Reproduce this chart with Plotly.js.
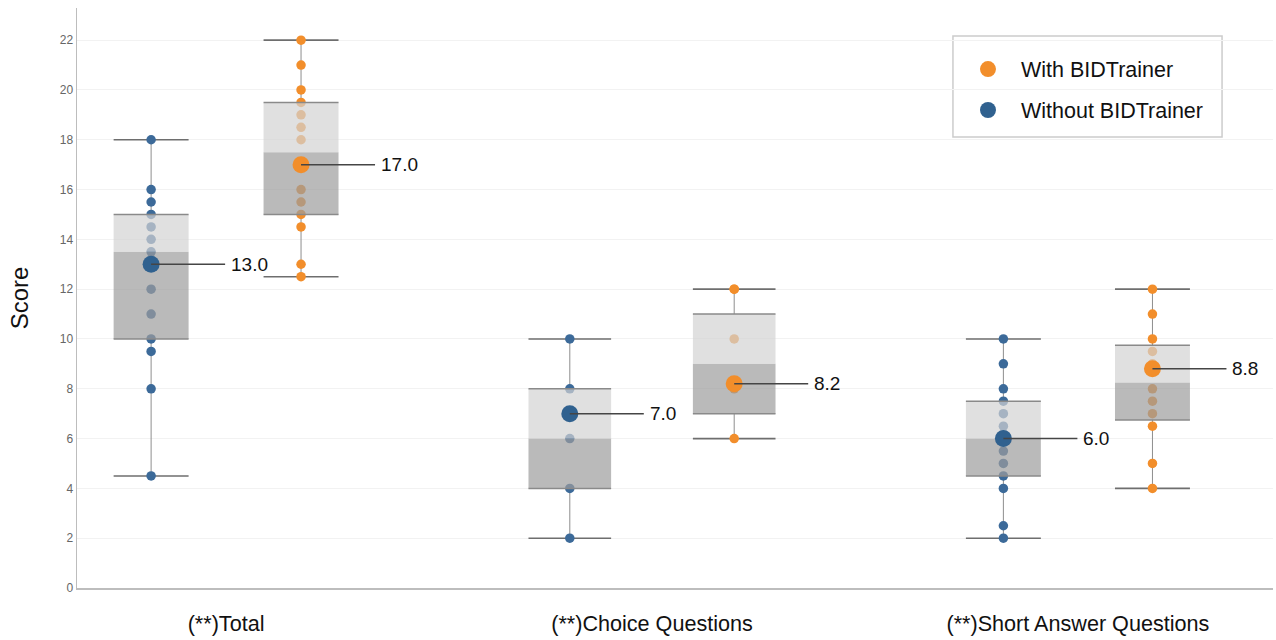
<!DOCTYPE html>
<html>
<head>
<meta charset="utf-8">
<script src="https://cdn.plot.ly/plotly-3.0.1.min.js"></script>
<style>
  html, body { margin: 0; padding: 0; background: #fff; }
  #chart { width: 1276px; height: 640px; }
</style>
</head>
<body>
<div id="chart"></div>
<script>
// ---- data ----
const categories = ['(**)Total', '(**)Choice Questions', '(**)Short Answer Questions'];
const withName = 'With BIDTrainer';
const withoutName = 'Without BIDTrainer';

// individual scores per category
const withoutScores = [
  [18, 16, 15.5, 15, 14.5, 14, 13.5, 12, 11, 10, 9.5, 8, 4.5],
  [10, 8, 6, 4, 2],
  [10, 9, 8, 7.5, 7, 6.5, 6, 5.5, 5, 4.5, 4, 2.5, 2]
];
const withScores = [
  [22, 21, 20, 19.5, 19, 18.5, 18, 16, 15.5, 15, 14.5, 13, 12.5],
  [12, 12, 10, 8, 6],
  [12, 11, 10, 9.5, 9, 8, 7.5, 7, 6.5, 5, 4]
];

// box statistics per category
const withoutMin = [4.5, 2, 2];
const withoutQ1 = [10, 4, 4.5];
const withoutMedian = [13.5, 6, 6];
const withoutQ3 = [15, 8, 7.5];
const withoutMax = [18, 10, 10];
const withoutMean = [13.0, 7.0, 6.0];

const withMin = [12.5, 6, 4];
const withQ1 = [15, 7, 6.75];
const withMedian = [17.5, 9, 8.25];
const withQ3 = [19.5, 11, 9.75];
const withMax = [22, 12, 12];
const withMean = [17.0, 8.2, 8.8];

// ---- geometry & style ----
const pairOffset = [0.176, 0.193, 0.175];  // distance of each box from its category centre (axis units)
const boxHalf = [0.088, 0.097, 0.088];     // half box width (axis units)
const FONT = '"Liberation Sans", Arial, Helvetica, sans-serif';
const BLUE = '#3c6a99';
const BLUE_MEAN = '#30618f';
const ORANGE = '#f28e2b';
const ORANGE_MEAN = '#f28e2b';

function buildSeries(side, s) {
  const pos = categories.map((_, g) => g + side * pairOffset[g]);
  const whiskX = [], whiskY = [], capX = [], capY = [];
  const lowX = [], lowY = [], upX = [], upY = [], edgeX = [], edgeY = [];
  const ptsX = [], ptsY = [];
  categories.forEach((_, g) => {
    const x = pos[g], h = boxHalf[g];
    whiskX.push(x, x, null, x, x, null);
    whiskY.push(s.min[g], s.q1[g], null, s.q3[g], s.max[g], null);
    capX.push(x - h, x + h, null, x - h, x + h, null);
    capY.push(s.min[g], s.min[g], null, s.max[g], s.max[g], null);
    lowX.push(x - h, x + h, x + h, x - h, x - h, null);
    lowY.push(s.q1[g], s.q1[g], s.median[g], s.median[g], s.q1[g], null);
    upX.push(x - h, x + h, x + h, x - h, x - h, null);
    upY.push(s.median[g], s.median[g], s.q3[g], s.q3[g], s.median[g], null);
    edgeX.push(x - h, x + h, null, x - h, x + h, null);
    edgeY.push(s.q1[g], s.q1[g], null, s.q3[g], s.q3[g], null);
    s.scores[g].forEach(v => { ptsX.push(x); ptsY.push(v); });
  });
  const common = { type: 'scatter', showlegend: false, hoverinfo: 'skip' };
  return {
    pos,
    under: [
      Object.assign({}, common, { x: whiskX, y: whiskY, mode: 'lines', line: { color: '#8e8e8e', width: 1 } }),
      Object.assign({}, common, { x: capX, y: capY, mode: 'lines', line: { color: '#6e6e6e', width: 1.6 } }),
      Object.assign({}, common, { x: ptsX, y: ptsY, mode: 'markers', marker: { size: 9.5, color: s.color, line: { width: 0 } } })
    ],
    boxes: [
      Object.assign({}, common, { x: lowX, y: lowY, mode: 'lines', fill: 'toself', fillcolor: 'rgba(157,157,157,0.7)', line: { width: 0 } }),
      Object.assign({}, common, { x: upX, y: upY, mode: 'lines', fill: 'toself', fillcolor: 'rgba(211,211,211,0.7)', line: { width: 0 } }),
      Object.assign({}, common, { x: edgeX, y: edgeY, mode: 'lines', line: { color: '#8a8a8a', width: 1.5 } })
    ],
    mean: {
      type: 'scatter', mode: 'markers', name: s.name, x: pos, y: s.mean,
      marker: { size: 17, color: s.meanColor, line: { width: 0 } },
      legendgroup: s.name, legendrank: s.rank, hoverinfo: 'skip'
    }
  };
}

const without = buildSeries(-1, {
  name: withoutName, scores: withoutScores, min: withoutMin, q1: withoutQ1, median: withoutMedian,
  q3: withoutQ3, max: withoutMax, mean: withoutMean, color: BLUE, meanColor: BLUE_MEAN, rank: 2
});
const withT = buildSeries(1, {
  name: withName, scores: withScores, min: withMin, q1: withQ1, median: withMedian,
  q3: withQ3, max: withMax, mean: withMean, color: ORANGE, meanColor: ORANGE_MEAN, rank: 1
});

const traces = [].concat(
  without.under, withT.under,
  without.boxes, withT.boxes,
  [without.mean, withT.mean]
);

// mean value labels with leader lines
const annotations = [];
[[without.pos, withoutMean], [withT.pos, withMean]].forEach(([pos, mean]) => {
  pos.forEach((x, g) => {
    annotations.push({
      x: x, y: mean[g], xref: 'x', yref: 'y',
      text: mean[g].toFixed(1), showarrow: true, arrowhead: 0, arrowwidth: 1.5,
      arrowcolor: '#454545', ax: 74, ay: 0, axref: 'pixel', ayref: 'pixel',
      xanchor: 'left', yanchor: 'middle', standoff: 0, borderpad: 5,
      font: { family: FONT, size: 19, color: '#111' }
    });
  });
});

const layout = {
  width: 1276, height: 640,
  margin: { l: 77, r: 3, t: 8, b: 52 },
  paper_bgcolor: '#fff', plot_bgcolor: '#fff',
  font: { family: FONT },
  showlegend: true,
  legend: {
    x: 0.7341, y: 0.930, xanchor: 'left', yanchor: 'top',
    bgcolor: 'rgba(0,0,0,0)', borderwidth: 0,
    font: { family: FONT, size: 21.5, color: '#111' },
    traceorder: 'grouped', tracegroupgap: 10, itemwidth: 56
  },
  xaxis: {
    range: [-0.35, 2.458], tickmode: 'array', tickvals: [0, 1, 2], ticktext: categories,
    showgrid: false, zeroline: false, showline: true, linecolor: '#bdbdbd', linewidth: 1.5,
    ticks: '', ticklabelstandoff: 16,
    tickfont: { family: FONT, size: 21.6, color: '#111' }, fixedrange: true
  },
  yaxis: {
    range: [0, 23.29], tick0: 0, dtick: 2,
    showgrid: true, gridcolor: '#f2f2f2', gridwidth: 1, zeroline: false,
    showline: true, linecolor: '#bdbdbd', linewidth: 1.5, ticks: '',
    tickfont: { family: FONT, size: 12, color: '#666' },
    title: { text: 'Score', font: { family: FONT, size: 24, color: '#111' }, standoff: 24 },
    fixedrange: true
  },
  shapes: [{
    type: 'rect', xref: 'paper', yref: 'paper', layer: 'between',
    x0: 0.7324, x1: 0.9574, y0: 0.7776, y1: 0.9517,
    fillcolor: '#fff', line: { color: '#cccccc', width: 1.5 }
  }],
  annotations: annotations
};

Plotly.newPlot('chart', traces, layout, { displayModeBar: false, staticPlot: true });
</script>
</body>
</html>
